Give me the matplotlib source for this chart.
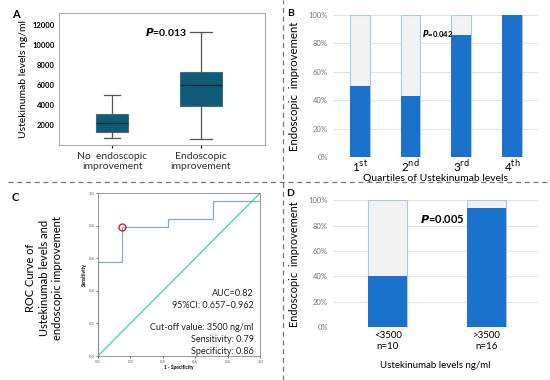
import matplotlib
matplotlib.use('Agg')
import matplotlib.pyplot as plt
from matplotlib.lines import Line2D

plt.rcParams['font.family'] = ['Lato', 'DejaVu Sans']

# Panel A: box plot summaries
box_labels = ["No  endoscopic\nimprovement", "Endoscopic\nimprovement"]
box_whislo = [700, 600]
box_q1 = [1300, 3900]
box_med = [2200, 6000]
box_q3 = [3100, 7300]
box_whishi = [5000, 11300]

# Panel B: quartiles
quart_labels = [r'1$^{\mathrm{st}}$', r'2$^{\mathrm{nd}}$', r'3$^{\mathrm{rd}}$', r'4$^{\mathrm{th}}$']
quart_improved = [0.50, 0.43, 0.86, 1.00]

# Panel C: ROC curve
roc_fpr = [0, 0, 0.15, 0.15, 0.43, 0.43, 0.71, 0.71, 1.0, 1.0]
roc_tpr = [0, 0.58, 0.58, 0.79, 0.79, 0.84, 0.84, 0.95, 0.95, 1.0]
cutoff_point = (0.15, 0.79)

# Panel D: cut-off groups
group_labels = ["<3500\nn=10", ">3500\nn=16"]
group_improved = [0.40, 0.94]

BLUE = '#1a72cc'
LIGHT = '#f2f2f2'
EDGE = '#a9c8ea'
TEAL = '#0f5b78'
pct_ticks = [0, 0.2, 0.4, 0.6, 0.8, 1.0]
pct_labels = ['0%', '20%', '40%', '60%', '80%', '100%']

fig = plt.figure(figsize=(5.5, 3.8), dpi=100)

# ---- A ----
axA = fig.add_axes([0.107, 0.618, 0.375, 0.347])
stats = []
for i in range(2):
    stats.append(dict(whislo=box_whislo[i], q1=box_q1[i], med=box_med[i],
                      q3=box_q3[i], whishi=box_whishi[i], fliers=[]))
axA.bxp(stats, positions=[1, 2], widths=[0.36, 0.48], patch_artist=True,
        boxprops=dict(facecolor=TEAL, edgecolor='#4a6a78', linewidth=0.8),
        medianprops=dict(color='#102a35', linewidth=1.0),
        whiskerprops=dict(color='#555555', linewidth=0.9),
        capprops=dict(color='#555555', linewidth=0.9), showfliers=False)
axA.set_xlim(0.395, 2.725)
axA.set_ylim(0, 13150)
yvals = [2000, 4000, 6000, 8000, 10000, 12000]
axA.set_yticks(yvals)
axA.set_yticklabels([str(v) for v in yvals], fontsize=5.5, fontweight='bold')
axA.set_xticks([1, 2])
axA.set_xticklabels(box_labels, fontsize=7.5, color='#333333', linespacing=1.15)
axA.tick_params(axis='x', length=2, pad=3)
axA.tick_params(axis='y', length=0, pad=3)
for s in axA.spines.values():
    s.set_color('#aaaaaa')
axA.set_ylabel("Ustekinumab levels ng/ml", fontsize=7.5, labelpad=3)
axA.text(0.42, 0.86, r'$\bfit{P}$' + '=0.013', transform=axA.transAxes,
         fontsize=7.5, fontweight='bold', ha='left', va='center')
fig.text(12 / 550, 1 - 15 / 380, 'A', fontsize=8, fontweight='bold', va='center')

# ---- B ----
axB = fig.add_axes([0.605, 0.587, 0.373, 0.374])
xb = list(range(len(quart_labels)))
axB.bar(xb, [1.0] * 4, width=0.39, color=LIGHT, edgecolor=EDGE, linewidth=0.8, zorder=2)
axB.bar(xb, quart_improved, width=0.39, color=BLUE, linewidth=0, zorder=3)
axB.set_xlim(-0.53, 3.51)
axB.set_ylim(0, 1.0)
axB.set_yticks(pct_ticks)
axB.set_yticklabels(pct_labels, fontsize=5.5, color='#777777')
axB.yaxis.grid(True, color='#dddddd', linewidth=0.6, zorder=0)
axB.set_axisbelow(True)
for s in axB.spines.values():
    s.set_visible(False)
axB.tick_params(length=0)
axB.set_xticks(xb)
axB.set_xticklabels(quart_labels, fontsize=8.5)
axB.tick_params(axis='x', pad=1)
axB.set_xlabel("Quartiles of Ustekinumab levels", fontsize=7.5, labelpad=0)
axB.set_ylabel("Endoscopic  improvement", fontsize=8.2, labelpad=6)
axB.text(1.22, 0.866, r'$\bfit{P}$' + '=0.042', fontsize=5.5, fontweight='bold',
         ha='left', va='center', zorder=5)
fig.text(287 / 550, 1 - 14 / 380, 'B', fontsize=7.5, fontweight='bold', va='center')

# ---- C ----
axC = fig.add_axes([0.178, 0.063, 0.295, 0.429])
axC.plot([0, 1], [0, 1], color='#3dd69a', linewidth=0.9)
axC.plot(roc_fpr, roc_tpr, color='#8aa4d6', linewidth=0.9)
axC.plot(cutoff_point[0], cutoff_point[1], 'o', markersize=5, markerfacecolor='none',
         markeredgecolor='#e02020', markeredgewidth=1.0)
axC.set_xlim(0, 1)
axC.set_ylim(0, 1)
ticks = [0.0, 0.2, 0.4, 0.6, 0.8, 1.0]
tick_txt = ['0.0', '0.2', '0.4', '0.6', '0.8', '1.0']
axC.set_xticks(ticks)
axC.set_yticks(ticks)
axC.set_xticklabels(tick_txt, fontsize=3, color='#555555')
axC.set_yticklabels(tick_txt, fontsize=3, color='#555555')
axC.tick_params(length=1.5, width=0.4, pad=1)
for s in axC.spines.values():
    s.set_color('#888888')
    s.set_linewidth(0.6)
axC.set_xlabel("1 - Specificity", fontsize=3.5, fontweight='bold', labelpad=1)
axC.set_ylabel("Sensitivity", fontsize=3.5, fontweight='bold', labelpad=1)
axC.text(0.96, 0.345, "AUC=0.82\n95%CI: 0.657\u20130.962", transform=axC.transAxes,
         fontsize=6.5, ha='right', va='center', linespacing=1.4, color='#222222')
axC.text(0.96, 0.10, "Cut-off value: 3500 ng/ml\nSensitivity: 0.79\nSpecificity: 0.86",
         transform=axC.transAxes, fontsize=6.5, ha='right', va='center',
         linespacing=1.4, color='#222222')
fig.text(44 / 550, 1 - 278 / 380,
         "ROC Curve of\nUstekinumab levels and\nendoscopic improvement",
         rotation=90, fontsize=8, ha='center', va='center', linespacing=1.3)
fig.text(12 / 550, 1 - 198 / 380, 'C', fontsize=8, fontweight='bold', va='center')

# ---- D ----
axD = fig.add_axes([0.605, 0.139, 0.373, 0.334])
xd = list(range(len(group_labels)))
axD.bar(xd, [1.0] * 2, width=0.40, color=LIGHT, edgecolor=EDGE, linewidth=0.8, zorder=2)
axD.bar(xd, group_improved, width=0.40, color=BLUE, linewidth=0, zorder=3)
axD.set_xlim(-0.556, 1.52)
axD.set_ylim(0, 1.0)
axD.set_yticks(pct_ticks)
axD.set_yticklabels(pct_labels, fontsize=5.5, color='#777777')
axD.yaxis.grid(True, color='#dddddd', linewidth=0.6, zorder=0)
axD.set_axisbelow(True)
for s in axD.spines.values():
    s.set_visible(False)
axD.tick_params(length=0)
axD.set_xticks(xd)
axD.set_xticklabels(group_labels, fontsize=7, linespacing=1.3)
axD.tick_params(axis='x', pad=3)
axD.set_xlabel("Ustekinumab levels ng/ml", fontsize=7, labelpad=7)
axD.set_ylabel("Endoscopic  improvement", fontsize=7.9, labelpad=6)
axD.text(0.55, 0.85, r'$\bfit{P}$' + '=0.005', fontsize=8, fontweight='bold',
         ha='center', va='center')
fig.text(286 / 550, 1 - 193 / 380, 'D', fontsize=7.5, fontweight='bold', va='center')

# panel separators
fig.add_artist(Line2D([8 / 550, 1], [1 - 182 / 380] * 2, transform=fig.transFigure,
                      color='#777777', linestyle=(0, (4, 3)), linewidth=0.9))
fig.add_artist(Line2D([283 / 550] * 2, [0, 1], transform=fig.transFigure,
                      color='#777777', linestyle=(0, (4, 3)), linewidth=0.9))

fig.savefig('out.png', dpi=100)
